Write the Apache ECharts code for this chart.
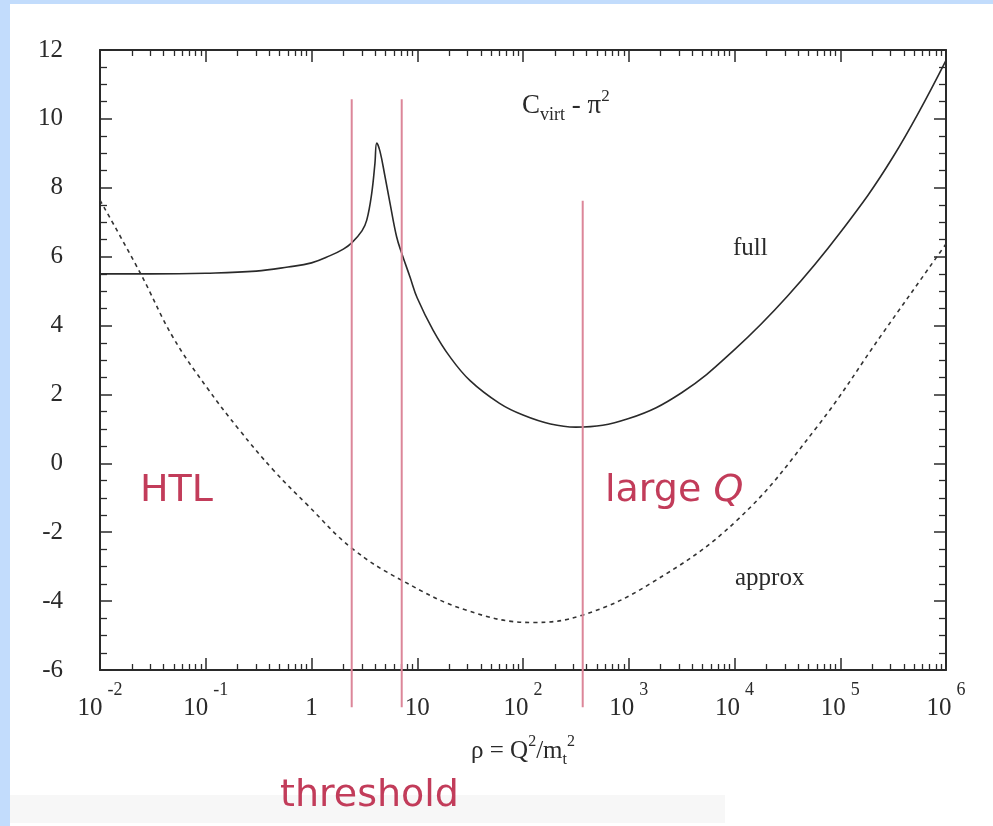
<!DOCTYPE html>
<html>
<head>
<meta charset="utf-8">
<script src="https://cdn.jsdelivr.net/npm/echarts@6/dist/echarts.min.js"></script>
<style>
html, body { margin: 0; padding: 0; background: #fff; }
#chart { width: 993px; height: 826px; }
</style>
</head>
<body>
<div id="chart"></div>
<script>
// rho = Q^2/m_t^2 and C_virt - pi^2
const rhoFull = [0.01, 0.03, 0.1, 0.3, 0.6, 1, 1.5, 2, 2.4, 3.0, 3.33, 3.71, 3.98, 4.14, 4.45, 4.96, 5.53, 6.39, 7.13, 8.54, 10, 14.1, 20.4, 31.6, 60, 100, 182, 316, 1000, 3162, 10000, 31623, 100000, 316228, 1e6];
const fullVals = [5.50, 5.50, 5.52, 5.58, 5.70, 5.82, 6.03, 6.22, 6.40, 6.75, 7.06, 7.84, 8.71, 9.3, 9.05, 8.32, 7.55, 6.57, 6.1, 5.41, 4.8, 3.87, 3.09, 2.4, 1.74, 1.40, 1.14, 1.05, 1.30, 2.05, 3.3, 4.85, 6.7, 8.9, 11.7];

const rhoApprox = [0.01, 0.024, 0.049, 0.102, 0.209, 0.437, 0.91, 2.4, 7.18, 29.5, 123, 372, 1585, 10500, 60000, 251000, 813000, 1e6];
const approxVals = [7.64, 5.53, 3.66, 2.21, 0.96, -0.2, -1.2, -2.46, -3.40, -4.27, -4.62, -4.40, -3.50, -1.66, 1.05, 3.77, 5.98, 6.37];

// red region markers
const markRho = [2.4, 7.13, 367];
const markTop = [10.57, 10.57, 7.62];
const markBottom = -7.08;

// ticks
const majorExp = [-2, -1, 0, 1, 2, 3, 4, 5, 6];
const minorMult = [2, 3, 4, 5, 6, 7, 8, 9];

const serif = '"Liberation Serif", "Times New Roman", serif';
const sans = '"DejaVu Sans", Verdana, sans-serif';
const ink = '#2a2a2a';
const red = '#c23c5a';
const pink = '#dc8699';

const minorTicks = [];
majorExp.slice(0, -1).forEach(e => {
  minorMult.forEach(m => { minorTicks.push(Math.log10(m * Math.pow(10, e))); });
});

const toXY = (xs, ys) => xs.map((x, i) => [Math.log10(x), ys[i]]);

function majorX (pos, labels) {
  return {
    type: 'value', position: pos, min: -2, max: 6, interval: 1,
    axisLine: { show: true, onZero: false, lineStyle: { color: ink, width: 2 } },
    axisTick: { inside: true, length: 12, lineStyle: { color: ink, width: 1.5 } },
    splitLine: { show: false },
    axisLabel: {
      show: labels, margin: 11, color: ink,
      formatter: function (v) {
        const e = Math.round(v);
        if (e === 0) return '{b|1}';
        if (e === 1) return '{b|10}';
        return '{b|10}{s|' + e + '}';
      },
      rich: {
        b: { fontFamily: serif, fontSize: 25, lineHeight: 40, verticalAlign: 'bottom', color: ink },
        s: { fontFamily: serif, fontSize: 18, lineHeight: 12, verticalAlign: 'top', padding: [0, 0, 0, 5], color: ink }
      }
    }
  };
}
function minorX (pos) {
  return {
    type: 'value', position: pos, min: -2, max: 6,
    axisLine: { show: false, onZero: false },
    axisTick: { inside: true, length: 6, customValues: minorTicks, lineStyle: { color: ink, width: 1.3 } },
    axisLabel: { show: false },
    splitLine: { show: false }
  };
}
function yAx (pos, labels) {
  return {
    type: 'value', position: pos, min: -6, max: 12, interval: 2,
    axisLine: { show: true, onZero: false, lineStyle: { color: ink, width: 2 } },
    axisTick: { inside: true, length: 12, lineStyle: { color: ink, width: 1.5 } },
    minorTick: { show: true, splitNumber: 4, length: 7, lineStyle: { color: ink, width: 1.3 } },
    splitLine: { show: false },
    axisLabel: { show: labels, margin: 37, fontFamily: serif, fontSize: 25, color: ink }
  };
}

const markSeries = markRho.map((r, i) => ({
  type: 'line', xAxisIndex: 0, yAxisIndex: 0, clip: false, silent: true,
  showSymbol: false, z: 5,
  lineStyle: { color: pink, width: 2 },
  data: [[Math.log10(r), markBottom], [Math.log10(r), markTop[i]]]
}));

const chart = echarts.init(document.getElementById('chart'));
chart.setOption({
  animation: false,
  backgroundColor: '#fff',
  grid: { left: 100, right: 47, top: 50, bottom: 156 },
  xAxis: [
    Object.assign(majorX('bottom', true), {
      name: '{n|ρ = Q}{sp|2}{n|/m}{sb|t}{sp|2}', nameLocation: 'middle', nameGap: 64,
      nameTextStyle: {
        rich: {
          n: { fontFamily: serif, fontSize: 25, lineHeight: 34, color: ink },
          sp: { fontFamily: serif, fontSize: 16, lineHeight: 14, verticalAlign: 'top', color: ink },
          sb: { fontFamily: serif, fontSize: 16, lineHeight: 14, verticalAlign: 'bottom', color: ink }
        }
      }
    }),
    majorX('top', false),
    minorX('bottom'),
    minorX('top')
  ],
  yAxis: [yAx('left', true), yAx('right', false)],
  graphic: [
    { type: 'rect', z: -10, shape: { x: 0, y: 0, width: 993, height: 4 }, style: { fill: '#c2dcfc' } },
    { type: 'rect', z: -10, shape: { x: 0, y: 0, width: 10, height: 826 }, style: { fill: '#c2dcfc' } },
    { type: 'rect', z: -10, shape: { x: 10, y: 795, width: 715, height: 28 }, style: { fill: '#f7f7f7' } },
    {
      type: 'text', x: 522, y: 106,
      style: {
        text: '{n|C}{sb|virt}{n| - π}{sp|2}', align: 'left', verticalAlign: 'middle',
        rich: {
          n: { fontFamily: serif, fontSize: 27, lineHeight: 36, fill: ink },
          sb: { fontFamily: serif, fontSize: 18, lineHeight: 18, verticalAlign: 'bottom', fill: ink },
          sp: { fontFamily: serif, fontSize: 17, lineHeight: 14, verticalAlign: 'top', fill: ink }
        }
      }
    },
    { type: 'text', x: 733, y: 248, style: { text: 'full', font: '25px ' + serif, fill: ink, align: 'left', verticalAlign: 'middle' } },
    { type: 'text', x: 735, y: 578, style: { text: 'approx', font: '25px ' + serif, fill: ink, align: 'left', verticalAlign: 'middle' } },
    { type: 'text', x: 140, y: 491, style: { text: 'HTL', font: '38px ' + sans, fill: red, align: 'left', verticalAlign: 'middle' } },
    {
      type: 'text', x: 605, y: 491,
      style: {
        text: '{r|large }{i|Q}', align: 'left', verticalAlign: 'middle',
        rich: {
          r: { fontFamily: sans, fontSize: 38, fill: red },
          i: { fontFamily: sans, fontSize: 38, fontStyle: 'italic', fill: red }
        }
      }
    },
    { type: 'text', x: 280, y: 796, style: { text: 'threshold', font: '38px ' + sans, fill: red, align: 'left', verticalAlign: 'middle' } }
  ],
  series: [
    {
      name: 'full', type: 'line', smooth: 0.4, showSymbol: false, z: 3,
      lineStyle: { color: ink, width: 1.6 },
      data: toXY(rhoFull, fullVals)
    },
    {
      name: 'approx', type: 'line', smooth: 0.4, showSymbol: false, z: 3,
      lineStyle: { color: '#333', width: 1.6, type: [4, 4] },
      data: toXY(rhoApprox, approxVals)
    }
  ].concat(markSeries)
});
</script>
</body>
</html>
